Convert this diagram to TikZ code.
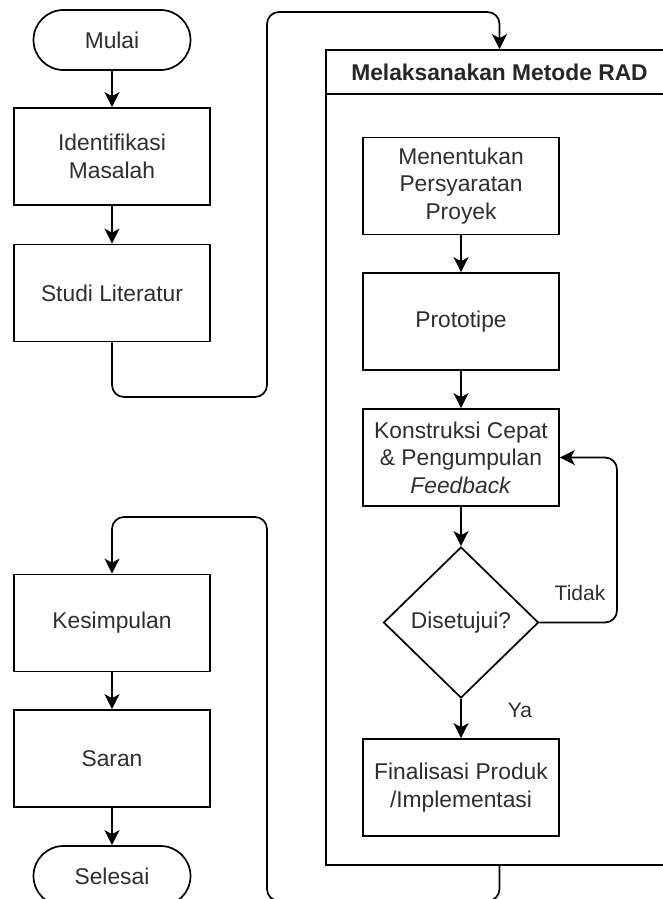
\documentclass[tikz,border=0pt]{standalone}
\usepackage{fontspec}
\setmainfont{Liberation Sans}
\usetikzlibrary{shapes.geometric,arrows.meta,calc}
\definecolor{textgray}{HTML}{2E2E2E}
\begin{document}
\begin{tikzpicture}[x=1pt,y=-1pt,
  txt/.style={text=textgray,font=\fontsize{22.8}{27.5}\selectfont,align=center},
  proc/.style={draw,line width=1.7pt,minimum width=196pt,minimum height=97pt,inner sep=2pt,txt},
  term/.style={draw,line width=1.7pt,rounded corners=30pt,minimum width=157pt,minimum height=60pt,inner sep=2pt,txt},
  dec/.style={diamond,draw,line width=1.7pt,minimum width=155pt,minimum height=151pt,inner sep=0pt,txt},
  conn/.style={draw,line width=1.7pt,rounded corners=12pt,-{Stealth[length=15pt,width=15pt,inset=4pt]}},
  lbl/.style={text=textgray,font=\fontsize{21}{25}\selectfont,inner sep=0pt}]
\useasboundingbox (0,0) rectangle (663,899);
\clip (0,0) rectangle (663,899);

% container
\node[draw,line width=1.7pt,minimum width=347pt,minimum height=815pt,inner sep=0pt] (rad) at (499.5,457.5) {};
\draw[line width=1.7pt] ($(rad.north west)+(0,45)$) -- ($(rad.north east)+(0,45)$);
\node[txt,font=\bfseries\fontsize{22.8}{27.5}\selectfont,text=black!85] (radtitle) at (499.5,72.5) {Melaksanakan Metode RAD};

% left column
\node[term] (mulai) at (112,40) {Mulai};
\node[proc] (ident) at (112,156.5) {Identifikasi\\Masalah};
\node[proc] (studi) at (112,293) {Studi Literatur};
\node[proc] (kes) at (112,623) {Kesimpulan};
\node[proc] (saran) at (112,758.5) {Saran};
\node[term] (selesai) at (112,876) {Selesai};

% inner column
\node[proc] (men) at (461,186) {Menentukan\\Persyaratan\\Proyek};
\node[proc] (proto) at (461,321.5) {Prototipe};
\node[proc] (konst) at (461,457.5) {Konstruksi Cepat\\\& Pengumpulan\\\textit{Feedback}};
\node[dec] (dia) at (461,622.5) {Disetujui?};
\node[proc] (final) at (461,787.5) {Finalisasi Produk\\/Implementasi};

% connectors
\draw[conn] (mulai) -- (ident);
\draw[conn] (ident) -- (studi);
\draw[conn] (kes) -- (saran);
\draw[conn] (saran) -- (selesai);
\draw[conn] (men) -- (proto);
\draw[conn] (proto) -- (konst);
\draw[conn] (konst) -- (dia);
\draw[conn] (dia) -- (final);

\coordinate (a1) at (112,397);
\coordinate (a2) at (267,397);
\coordinate (a3) at (267,12);
\coordinate (a4) at (499.5,12);
\draw[conn] (studi.south) -- (a1) -- (a2) -- (a3) -- (a4) -- (rad.north);

\coordinate (b1) at (499.5,901);
\coordinate (b2) at (267,901);
\coordinate (b3) at (267,517);
\coordinate (b4) at (112,517);
\draw[conn] (rad.south) -- (b1) -- (b2) -- (b3) -- (b4) -- (kes.north);

\coordinate (c1) at (617,622.5);
\coordinate (c2) at (617,457.5);
\draw[conn] (dia.east) -- (c1) -- (c2) -- (konst.east);

\node[lbl] (tidak) at (580,593) {Tidak};
\node[lbl] (ya) at (520,710) {Ya};
\end{tikzpicture}
\end{document}
